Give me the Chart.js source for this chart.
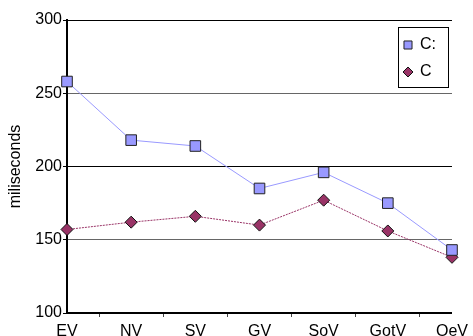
<!DOCTYPE html>
<html>
<head>
<meta charset="utf-8">
<script src="https://cdn.jsdelivr.net/npm/chart.js@4.4.0/dist/chart.umd.min.js"></script>
<style>
    html, body { margin: 0; padding: 0; background: #fff; }
    #wrap { width: 473px; height: 336px; position: relative; }
</style>
</head>
<body>
<div id="wrap"><canvas id="line-chart"></canvas></div>
<script>
(function () {
    "use strict";

    const categories = ["EV", "NV", "SV", "GV", "SoV", "GotV", "OeV"];
    const seriesNames = ["C:", "C"];
    const seriesA = [258, 218, 214, 185, 196, 175, 143];
    const seriesB = [157, 162, 166, 160, 177, 156, 138];
    const yTicks = [100, 150, 200, 250, 300];

    const font = { family: "'Liberation Sans', Arial, sans-serif", size: 16 };

    // boxed legend in the top right corner
    const boxLegend = {
        id: "boxLegend",
        afterDraw(chart) {
            const ctx = chart.ctx;
            const x = 398, y = 27, w = 50, h = 60;
            ctx.save();
            ctx.fillStyle = "#fff";
            ctx.fillRect(x, y, w, h);
            ctx.strokeStyle = "#000";
            ctx.lineWidth = 1;
            ctx.strokeRect(x + 0.5, y + 0.5, w, h);
            chart.data.datasets.forEach((ds, i) => {
                const cy = y + 18 + i * 27;
                ctx.fillStyle = ds.pointBackgroundColor;
                ctx.strokeStyle = ds.pointBorderColor;
                Chart.helpers.drawPoint(ctx, {
                    pointStyle: ds.pointStyle,
                    radius: ds.pointStyle === "rect" ? 5.7 : 5,
                    rotation: 0,
                    borderWidth: 1,
                }, x + 10, cy);
                ctx.fillStyle = "#000";
                ctx.font = font.size + "px " + font.family;
                ctx.textBaseline = "middle";
                ctx.textAlign = "left";
                ctx.fillText(ds.label, x + 22, cy);
            });
            ctx.restore();
        },
    };

    new Chart(document.getElementById("line-chart"), {
        type: "line",
        data: {
            labels: categories,
            datasets: [
                {
                    label: seriesNames[0],
                    data: seriesA,
                    borderColor: "#9999ff",
                    borderWidth: 1,
                    pointStyle: "rect",
                    pointRadius: 7.5,
                    pointBackgroundColor: "#9999ff",
                    pointBorderColor: "#222",
                    pointBorderWidth: 1,
                    tension: 0,
                    clip: false,
                },
                {
                    label: seriesNames[1],
                    data: seriesB,
                    borderColor: "#993366",
                    borderWidth: 1,
                    borderDash: [2, 1],
                    pointStyle: "rectRot",
                    pointRadius: 6,
                    pointBackgroundColor: "#993366",
                    pointBorderColor: "#111",
                    pointBorderWidth: 1,
                    tension: 0,
                    clip: false,
                },
            ],
        },
        options: {
            responsive: true,
            maintainAspectRatio: false,
            animation: false,
            layout: { padding: { top: 20, right: 18, left: 0, bottom: 0 } },
            plugins: {
                legend: { display: false },
                tooltip: { enabled: false },
            },
            scales: {
                x: {
                    offset: false,
                    afterFit: (scale) => { scale.height = 23; },
                    ticks: {
                        color: "#000",
                        font: font,
                        padding: 5,
                        maxRotation: 0,
                        autoSkip: false,
                    },
                    grid: {
                        offset: true,
                        drawOnChartArea: false,
                        tickLength: 4,
                        tickColor: "#444",
                    },
                    border: { color: "#000", width: 2 },
                },
                y: {
                    min: 100,
                    max: 300,
                    afterFit: (scale) => { scale.width = 67; },
                    afterBuildTicks: (scale) => {
                        scale.ticks = yTicks.map((v) => ({ value: v }));
                    },
                    title: {
                        display: true,
                        text: "miliseconds",
                        color: "#000",
                        font: font,
                        padding: { top: 6, bottom: 0 },
                    },
                    ticks: {
                        color: "#000",
                        font: font,
                        padding: 1,
                    },
                    grid: {
                        color: (c) => (c.tick && c.tick.value % 100 === 0 ? "#000" : "#666"),
                        tickColor: "#000",
                        tickLength: 4,
                        lineWidth: 1,
                    },
                    border: { color: "#000", width: 2 },
                },
            },
        },
        plugins: [boxLegend],
    });
})();
</script>
</body>
</html>
